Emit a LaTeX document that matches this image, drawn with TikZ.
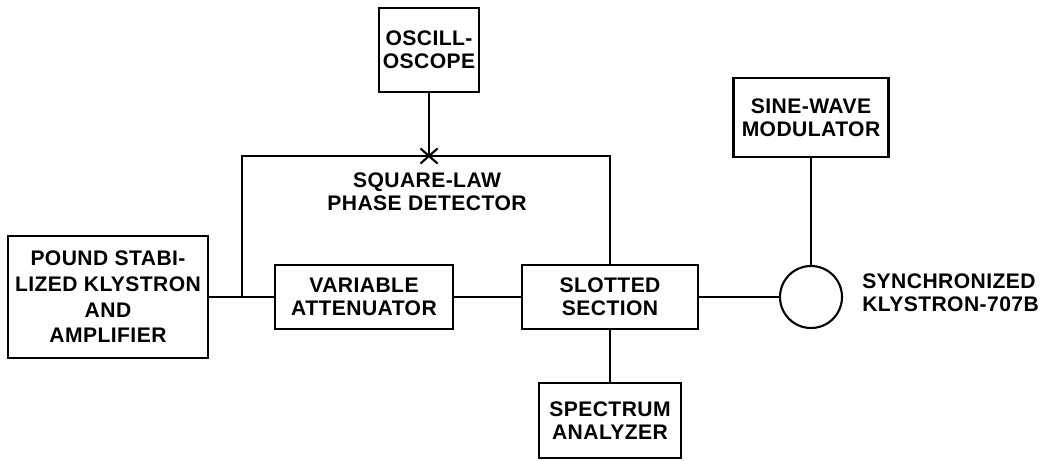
\documentclass[tikz,border=0pt]{standalone}
\usepackage{fontspec}
\setmainfont{Liberation Sans}[LetterSpace=2]
\usetikzlibrary{positioning,shapes.misc}
\newcommand{\diaglbl}{\bfseries\fontsize{12}{13}\selectfont}

\begin{document}
\begin{tikzpicture}[
    box/.style={draw,line width=1.2pt,align=center,font=\diaglbl,inner sep=2pt},
    lbl/.style={align=center,font=\diaglbl},
    wire/.style={line width=1.2pt}
  ]
  \useasboundingbox (0,0) rectangle (20.94,9.2);
  % main chain
  \node[box,minimum width=4cm,minimum height=2.44cm,font=\bfseries\fontsize{12}{14.6}\selectfont] (pound) at (2.16,3.26) {POUND STABI-\\LIZED KLYSTRON\\AND\\AMPLIFIER};
  \node[box,minimum width=3.56cm,minimum height=1.28cm] (atten) at (7.28,3.26) {VARIABLE\\ATTENUATOR};
  \node[box,minimum width=3.52cm,minimum height=1.28cm] (slot) at (12.2,3.26) {SLOTTED\\SECTION};
  \node[box,minimum width=2.84cm,minimum height=1.5cm] (spec) at (12.2,0.79) {SPECTRUM\\ANALYZER};
  \node[draw,circle,line width=1.2pt,minimum size=1.24cm,inner sep=0pt] (klys) at (16.22,3.26) {};
  \node[lbl,align=left,right=0.26cm of klys,yshift=0.08cm] (klyslbl) {SYNCHRONIZED\\KLYSTRON-707B};
  \node[box,minimum width=3.1cm,minimum height=1.58cm] (sine) at (16.22,6.85) {SINE-WAVE\\MODULATOR};
  % detector loop
  \node[box,minimum width=1.78cm,minimum height=1.68cm] (osc) at (8.58,8.2) {OSCILL-\\OSCOPE};
  \node[cross out,draw,line width=1.2pt,minimum width=0.3cm,minimum height=0.26cm,inner sep=0pt] (det) at (8.58,6.08) {};
  \node[lbl] (detlbl) at (8.54,5.36) {SQUARE-LAW\\PHASE DETECTOR};
  \coordinate (jl) at (4.84,3.26);
  \draw[wire] (pound) -- (atten);
  \draw[wire] (atten) -- (slot);
  \draw[wire] (slot) -- (klys);
  \draw[wire] (klys) -- (sine);
  \draw[wire] (slot) -- (spec);
  \draw[wire] (osc) -- (det.center);
  \draw[wire] (jl) |- (det.center) -| (slot.north);
\end{tikzpicture}
\end{document}
